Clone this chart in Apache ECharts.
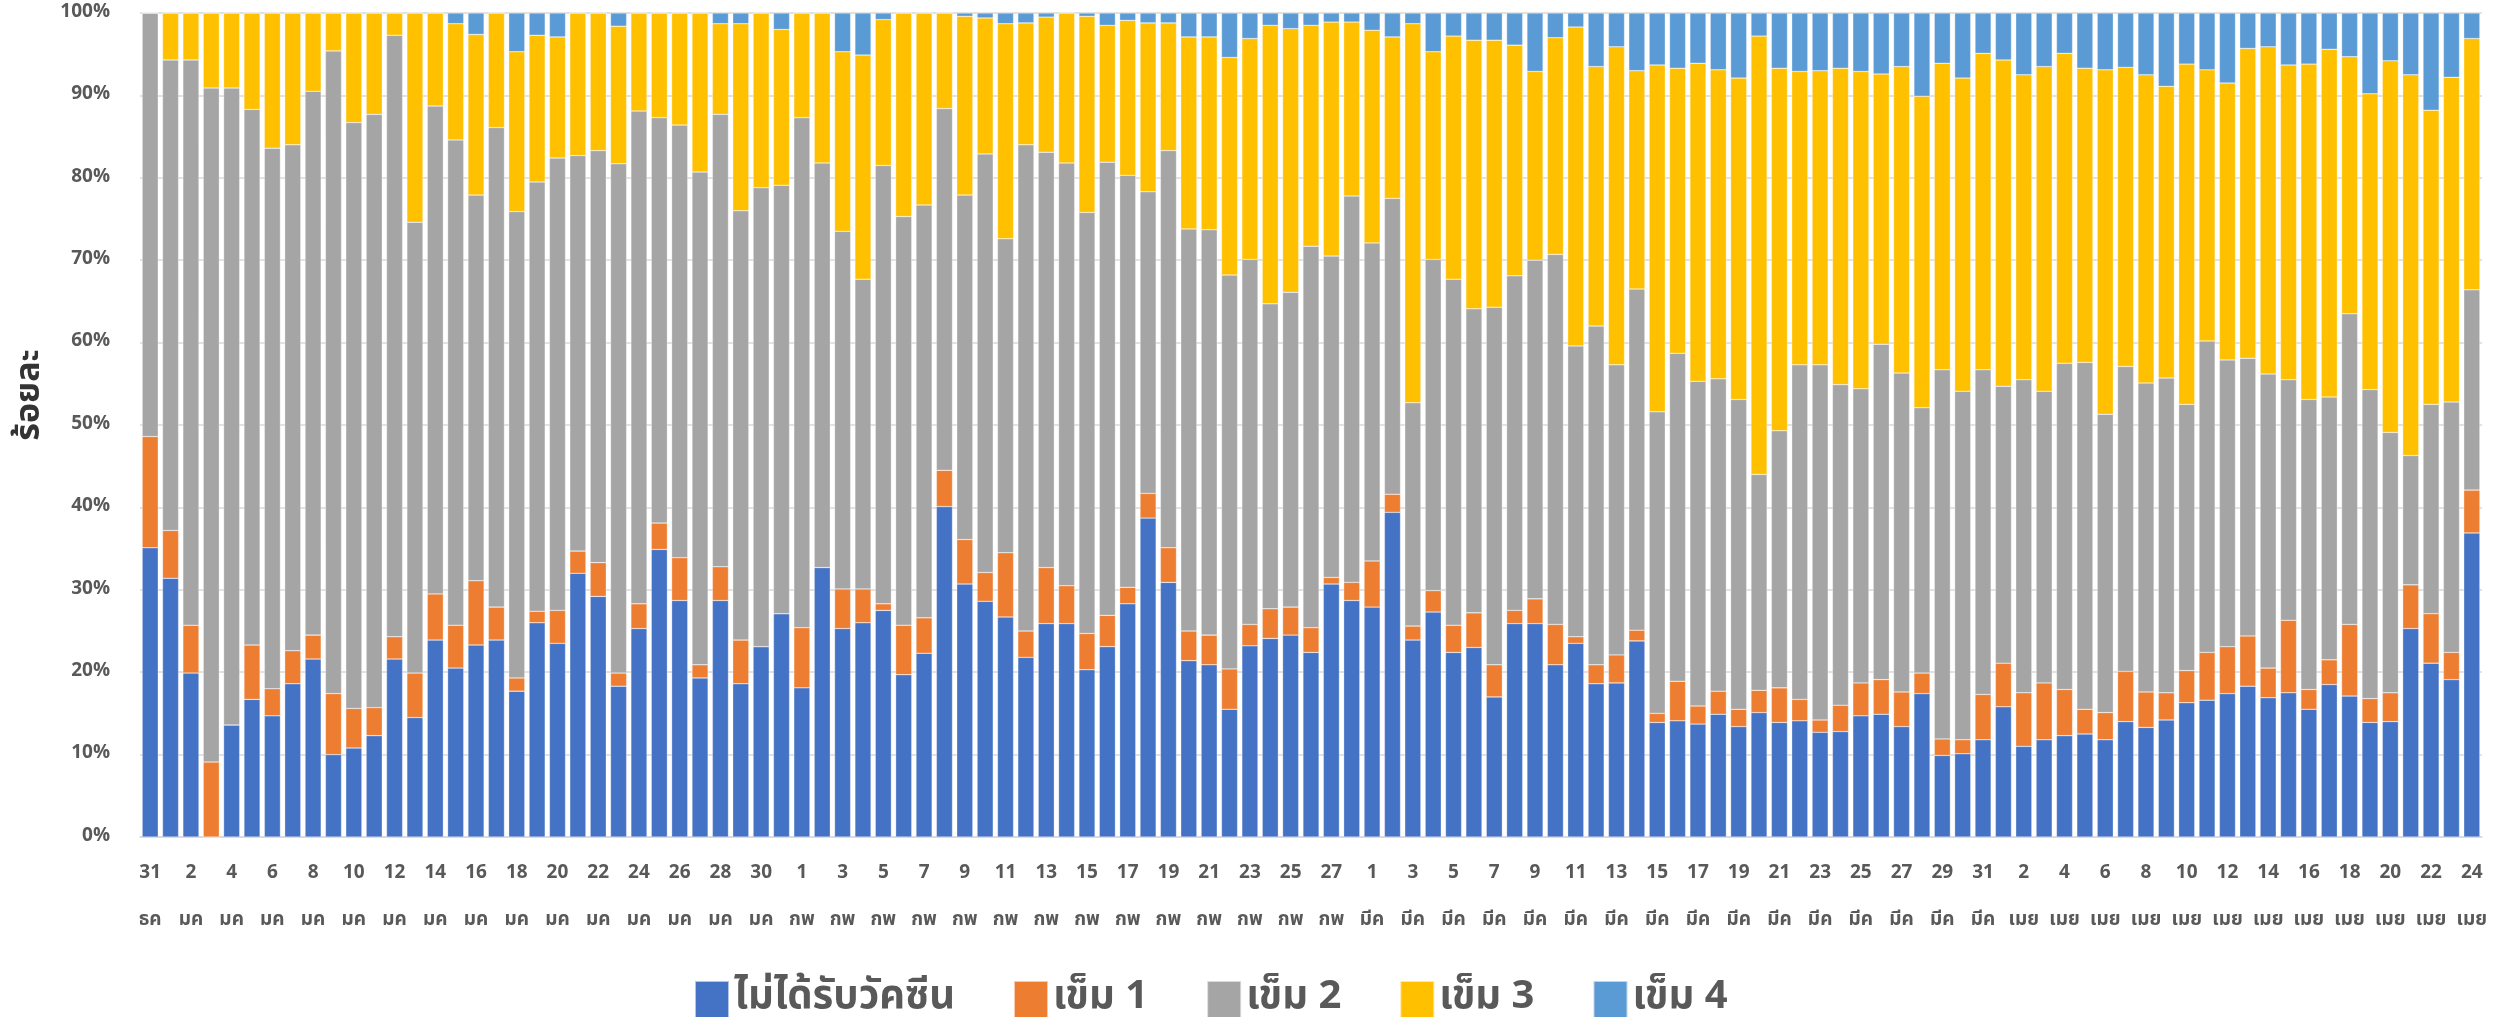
<!DOCTYPE html>
<html>
<head>
<meta charset="utf-8">
<script src="https://cdn.jsdelivr.net/npm/echarts@6/dist/echarts.min.js"></script>
<style>
  html, body { margin: 0; padding: 0; background: #fff; }
  #chart { width: 2509px; height: 1017px; }
</style>
</head>
<body>
<div id="chart"></div>
<script>
// เดือน: [ชื่อ, วันแรก, วันสุดท้าย]
const months = [['ธค', 31, 31], ['มค', 1, 31], ['กพ', 1, 28], ['มีค', 1, 31], ['เมย', 1, 24]];
const categories = [];
months.forEach(([name, from, to]) => {
    for (let d = from; d <= to; d++) categories.push(d + '\n' + name);
});

const seriesNames = ['ไม่ได้รับวัคซีน', 'เข็ม 1', 'เข็ม 2', 'เข็ม 3', 'เข็ม 4'];
const colors = ['#4472C4', '#ED7D31', '#A5A5A5', '#FFC000', '#5B9BD5'];

const unvaccinated = [
    35.1, 31.4, 19.9, 0, 13.6, 16.7, 14.7, 18.6, 21.6, 10.0,
    10.8, 12.3, 21.6, 14.5, 23.9, 20.5, 23.3, 23.9, 17.7, 26.0,
    23.5, 32.0, 29.2, 18.3, 25.3, 34.9, 28.7, 19.3, 28.7, 18.6,
    23.1, 27.1, 18.1, 32.7, 25.3, 26.0, 27.5, 19.7, 22.3, 40.1,
    30.7, 28.6, 26.7, 21.8, 25.9, 25.9, 20.3, 23.1, 28.3, 38.7,
    30.9, 21.4, 20.9, 15.5, 23.2, 24.1, 24.5, 22.4, 30.7, 28.7,
    27.9, 39.4, 23.9, 27.3, 22.4, 23.0, 17.0, 25.9, 25.9, 20.9,
    23.5, 18.6, 18.7, 23.8, 13.9, 14.1, 13.7, 14.9, 13.4, 15.1,
    13.9, 14.1, 12.7, 12.8, 14.7, 14.9, 13.4, 17.4, 9.9, 10.1,
    11.8, 15.8, 11.0, 11.8, 12.3, 12.5, 11.8, 14.0, 13.3, 14.2,
    16.3, 16.6, 17.4, 18.3, 16.9, 17.5, 15.5, 18.5, 17.1, 13.9,
    14.0, 25.3, 21.1, 19.1, 36.9
];
const dose1 = [
    13.5, 5.8, 5.8, 9.1, 0, 6.6, 3.3, 4.0, 2.9, 7.4,
    4.8, 3.4, 2.7, 5.4, 5.6, 5.2, 7.8, 4.0, 1.6, 1.4,
    4.0, 2.7, 4.1, 1.6, 3.0, 3.2, 5.2, 1.6, 4.1, 5.3,
    0, 0, 7.3, 0, 4.8, 4.1, 0.8, 6.0, 4.3, 4.4,
    5.4, 3.5, 7.8, 3.2, 6.8, 4.6, 4.4, 3.8, 2.0, 3.0,
    4.2, 3.6, 3.6, 4.9, 2.6, 3.6, 3.4, 3.0, 0.8, 2.2,
    5.6, 2.2, 1.7, 2.6, 3.3, 4.2, 3.9, 1.6, 3.0, 4.9,
    0.8, 2.3, 3.4, 1.3, 1.1, 4.8, 2.2, 2.8, 2.1, 2.7,
    4.2, 2.6, 1.5, 3.2, 4.0, 4.2, 4.2, 2.5, 2.0, 1.7,
    5.5, 5.3, 6.5, 6.9, 5.6, 3.0, 3.3, 6.1, 4.3, 3.3,
    3.9, 5.8, 5.7, 6.1, 3.6, 8.8, 2.4, 3.0, 8.7, 2.9,
    3.5, 5.3, 6.0, 3.3, 5.2
];
const dose2 = [
    51.4, 57.1, 68.6, 81.8, 77.3, 65.0, 65.6, 61.4, 66.0, 78.0,
    71.1, 72.0, 73.0, 54.7, 59.2, 58.9, 46.8, 58.2, 56.6, 52.1,
    54.9, 48.0, 50.0, 61.8, 59.8, 49.2, 52.5, 59.8, 54.9, 52.1,
    55.7, 52.0, 61.9, 49.1, 43.4, 37.6, 53.2, 49.6, 50.1, 43.9,
    41.8, 50.8, 38.1, 59.0, 50.4, 51.3, 51.1, 55.0, 50.0, 36.6,
    48.2, 48.8, 49.2, 47.8, 44.3, 37.0, 38.2, 46.3, 39.0, 46.9,
    38.6, 35.9, 27.1, 40.2, 42.0, 36.9, 43.4, 40.6, 41.1, 44.9,
    35.3, 41.1, 35.2, 41.4, 36.6, 39.8, 39.4, 37.9, 37.6, 26.2,
    31.2, 40.6, 43.1, 38.9, 35.7, 40.7, 38.7, 32.2, 44.8, 42.3,
    39.4, 33.6, 38.0, 35.4, 39.6, 42.1, 36.2, 37.0, 37.5, 38.2,
    32.3, 37.8, 34.8, 33.7, 35.7, 29.2, 35.2, 31.9, 37.7, 37.5,
    31.6, 15.7, 25.4, 30.4, 24.3
];
const dose3 = [
    0, 5.7, 5.7, 9.1, 9.1, 11.7, 16.4, 16.0, 9.5, 4.6,
    13.3, 12.3, 2.7, 25.4, 11.3, 14.1, 19.5, 13.9, 19.4, 17.8,
    14.7, 17.3, 16.7, 16.7, 11.9, 12.7, 13.6, 19.3, 11.0, 22.7,
    21.2, 18.9, 12.7, 18.2, 21.8, 27.2, 17.7, 24.7, 23.3, 11.6,
    21.7, 16.5, 26.1, 14.8, 16.4, 18.2, 23.8, 16.6, 18.8, 20.5,
    15.5, 23.3, 23.4, 26.4, 26.8, 33.8, 32.0, 26.8, 28.4, 21.1,
    25.8, 19.6, 46.0, 25.2, 29.5, 32.6, 32.4, 28.0, 22.9, 26.3,
    38.7, 31.5, 38.6, 26.5, 42.1, 34.6, 38.6, 37.5, 39.0, 53.2,
    44.0, 35.6, 35.7, 38.4, 38.5, 32.8, 37.2, 37.8, 37.2, 38.0,
    38.4, 39.6, 37.0, 39.4, 37.6, 35.7, 41.8, 36.3, 37.4, 35.4,
    41.3, 32.9, 33.6, 37.6, 39.7, 38.2, 40.7, 42.2, 31.2, 35.9,
    45.1, 46.2, 35.7, 39.4, 30.5
];
const dose4 = [
    0, 0, 0, 0, 0, 0, 0, 0, 0, 0,
    0, 0, 0, 0, 0, 1.3, 2.6, 0, 4.7, 2.7,
    2.9, 0, 0, 1.6, 0, 0, 0, 0, 1.3, 1.3,
    0, 2.0, 0, 0, 4.7, 5.1, 0.8, 0, 0, 0,
    0.4, 0.6, 1.3, 1.2, 0.5, 0, 0.4, 1.5, 0.9, 1.2,
    1.2, 2.9, 2.9, 5.4, 3.1, 1.5, 1.9, 1.5, 1.1, 1.1,
    2.1, 2.9, 1.3, 4.7, 2.8, 3.3, 3.3, 3.9, 7.1, 3.0,
    1.7, 6.5, 4.1, 7.0, 6.3, 6.7, 6.1, 6.9, 7.9, 2.8,
    6.7, 7.1, 7.0, 6.7, 7.1, 7.4, 6.5, 10.1, 6.1, 7.9,
    4.9, 5.7, 7.5, 6.5, 4.9, 6.7, 6.9, 6.6, 7.5, 8.9,
    6.2, 6.9, 8.5, 4.3, 4.1, 6.3, 6.2, 4.4, 5.3, 9.8,
    5.8, 7.5, 11.8, 7.8, 3.1
];

const allData = [unvaccinated, dose1, dose2, dose3, dose4];
const fontFamily = '"Noto Sans Thai", "Noto Sans", "Liberation Sans", sans-serif';

const chart = echarts.init(document.getElementById('chart'));

chart.setOption({
    animation: false,
    color: colors,
    textStyle: { fontFamily: fontFamily },
    grid: { left: 140, right: 27, top: 13, bottom: 180 },
    legend: {
        left: 689,
        top: 975,
        icon: 'rect',
        itemWidth: 34,
        itemHeight: 38,
        itemGap: 58,
        textStyle: { fontSize: 40, fontWeight: 'bold', color: '#595959', fontFamily: fontFamily },
        data: seriesNames
    },
    xAxis: {
        type: 'category',
        data: categories,
        axisTick: { show: false },
        axisLine: { lineStyle: { color: '#d9d9d9', width: 1.5 } },
        axisLabel: {
            interval: 1,
            color: '#595959',
            fontSize: 19,
            fontWeight: 'bold',
            lineHeight: 47,
            margin: 14
        }
    },
    yAxis: {
        type: 'value',
        min: 0,
        max: 100,
        interval: 10,
        name: 'ร้อยละ',
        nameLocation: 'middle',
        nameRotate: 90,
        nameGap: 88,
        nameTextStyle: { fontSize: 34, fontWeight: 'bold', color: '#333', padding: [0, 0, 0, 60] },
        axisLabel: { formatter: '{value}%', color: '#595959', fontSize: 19, fontWeight: 'bold', margin: 30 },
        splitLine: { lineStyle: { color: '#d9d9d9', width: 1.5 } }
    },
    series: seriesNames.map((name, i) => ({
        name: name,
        type: 'bar',
        stack: 'total',
        barCategoryGap: '21%',
        data: allData[i],
        itemStyle: { borderColor: 'rgba(255,255,255,0.6)', borderWidth: 0.5 }
    }))
});
</script>
</body>
</html>
